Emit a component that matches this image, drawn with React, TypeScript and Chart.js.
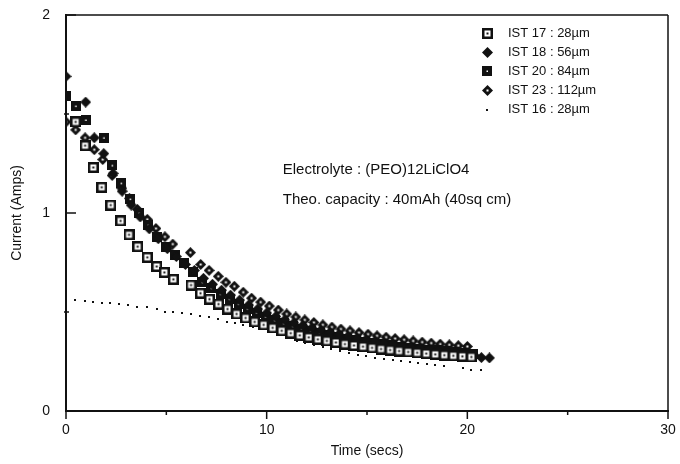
import React, { useEffect, useRef } from 'react';
import { Chart, registerables } from 'chart.js';

Chart.register(...registerables);

// ---- data (time in secs, current in amps) ----
const ist17T = [0.48, 0.95, 1.36, 1.78, 2.23, 2.72, 3.14, 3.57, 4.05, 4.52, 4.9, 5.35, 6.23, 6.7, 7.15, 7.6, 8.05, 8.5, 8.95, 9.4, 9.85, 10.3, 10.75, 11.2, 11.65, 12.1, 12.55, 13.0, 13.45, 13.9, 14.35, 14.8, 15.25, 15.7, 16.15, 16.6, 17.05, 17.5, 17.95, 18.4, 18.85, 19.3, 19.75, 20.2];
const ist17V = [1.46, 1.34, 1.23, 1.13, 1.04, 0.96, 0.89, 0.83, 0.776, 0.73, 0.7, 0.665, 0.636, 0.595, 0.565, 0.54, 0.515, 0.49, 0.47, 0.45, 0.435, 0.42, 0.405, 0.393, 0.382, 0.372, 0.362, 0.354, 0.346, 0.338, 0.331, 0.325, 0.319, 0.313, 0.308, 0.303, 0.298, 0.294, 0.29, 0.286, 0.282, 0.279, 0.276, 0.273];

const ist18T = [0, 0.98, 1.41, 1.88, 2.35, 2.8, 3.25, 3.7, 4.15, 4.6, 5.05, 5.5, 5.95, 6.4, 6.85, 7.3, 7.75, 8.2, 8.65, 9.1, 9.55, 10.0, 10.45, 10.9, 11.35, 11.8, 12.25, 12.7, 13.15, 13.6, 14.05, 14.5, 14.95, 15.4, 15.85, 16.3, 16.75, 17.2, 17.65, 18.1, 18.55, 19.0, 19.45, 19.9, 20.35, 20.7, 21.1];
const ist18V = [1.69, 1.56, 1.38, 1.3, 1.2, 1.11, 1.04, 0.98, 0.92, 0.87, 0.82, 0.78, 0.74, 0.71, 0.67, 0.64, 0.61, 0.585, 0.56, 0.535, 0.515, 0.495, 0.477, 0.46, 0.445, 0.432, 0.42, 0.408, 0.397, 0.387, 0.377, 0.368, 0.36, 0.352, 0.344, 0.337, 0.33, 0.323, 0.317, 0.311, 0.305, 0.3, 0.294, 0.289, 0.28, 0.27, 0.268];

const ist20T = [0, 0.48, 0.98, 1.88, 2.3, 2.75, 3.2, 3.65, 4.1, 4.55, 5.0, 5.45, 5.9, 6.35, 6.8, 7.25, 7.7, 8.15, 8.6, 9.05, 9.5, 9.95, 10.4, 10.85, 11.3, 11.75, 12.2, 12.65, 13.1, 13.55, 14.0, 14.45, 14.9, 15.35, 15.8, 16.25, 16.7, 17.15, 17.6, 18.05, 18.5, 18.95, 19.4, 19.85, 20.3];
const ist20V = [1.59, 1.54, 1.47, 1.38, 1.24, 1.15, 1.07, 1.0, 0.94, 0.88, 0.83, 0.79, 0.75, 0.7, 0.65, 0.62, 0.59, 0.565, 0.54, 0.515, 0.495, 0.475, 0.458, 0.442, 0.428, 0.415, 0.403, 0.392, 0.382, 0.373, 0.365, 0.357, 0.35, 0.343, 0.337, 0.331, 0.325, 0.32, 0.315, 0.31, 0.306, 0.302, 0.298, 0.295, 0.29];

const ist23T = [0, 0.48, 0.95, 1.41, 1.83, 2.3, 2.78, 3.16, 3.56, 4.05, 4.48, 4.93, 5.32, 6.2, 6.71, 7.13, 7.59, 7.97, 8.39, 8.83, 9.25, 9.7, 10.13, 10.58, 11.0, 11.45, 11.9, 12.35, 12.8, 13.25, 13.7, 14.15, 14.6, 15.05, 15.5, 15.95, 16.4, 16.85, 17.3, 17.75, 18.2, 18.65, 19.1, 19.55, 20.0];
const ist23V = [1.46, 1.42, 1.38, 1.32, 1.27, 1.19, 1.125, 1.074, 1.018, 0.968, 0.922, 0.88, 0.843, 0.8, 0.74, 0.71, 0.68, 0.65, 0.63, 0.6, 0.57, 0.55, 0.53, 0.51, 0.49, 0.475, 0.46, 0.447, 0.435, 0.424, 0.414, 0.405, 0.396, 0.388, 0.38, 0.373, 0.366, 0.36, 0.354, 0.348, 0.343, 0.338, 0.334, 0.33, 0.326];

const ist16T = [0.45, 0.95, 1.36, 1.78, 2.19, 2.65, 3.11, 3.55, 4.02, 4.52, 4.93, 5.35, 5.76, 6.21, 6.68, 7.14, 7.59, 8.01, 8.42, 8.84, 9.3, 9.75, 10.16, 10.6, 11.05, 11.5, 11.9, 12.35, 12.8, 13.2, 13.65, 14.1, 14.55, 14.95, 15.4, 15.85, 16.3, 16.7, 17.15, 17.55, 18.0, 18.4, 18.85, 19.8, 20.2, 20.7];
const ist16V = [0.56, 0.557, 0.552, 0.547, 0.544, 0.54, 0.535, 0.527, 0.524, 0.514, 0.502, 0.499, 0.497, 0.49, 0.48, 0.473, 0.463, 0.451, 0.446, 0.434, 0.425, 0.413, 0.4, 0.385, 0.37, 0.355, 0.345, 0.335, 0.325, 0.315, 0.305, 0.293, 0.283, 0.278, 0.27, 0.265, 0.258, 0.252, 0.245, 0.242, 0.236, 0.23, 0.228, 0.215, 0.205, 0.205];

const seriesLabels = ['IST 17 : 28µm', 'IST 18 : 56µm', 'IST 20 : 84µm', 'IST 23 : 112µm', 'IST 16 : 28µm'];
const annotationLines = ['Electrolyte : (PEO)12LiClO4', 'Theo. capacity : 40mAh (40sq cm)'];
const xMajorTicks = [0, 10, 20, 30];
const xMinorTicks = [5, 15, 25];
const yMajorTicks = [0, 1, 2];
const yMinorTicks = [0.5, 1.5];

const INK = '#111';
const FONT = '"Liberation Sans", Arial, sans-serif';

function makeMarker(size: number, draw: (g: CanvasRenderingContext2D, s: number) => void) {
  const c = document.createElement('canvas');
  c.width = size;
  c.height = size;
  const g = c.getContext('2d')!;
  draw(g, size);
  return c;
}

function diamondPath(g: CanvasRenderingContext2D, cx: number, cy: number, r: number) {
  g.beginPath();
  g.moveTo(cx, cy - r);
  g.lineTo(cx + r, cy);
  g.lineTo(cx, cy + r);
  g.lineTo(cx - r, cy);
  g.closePath();
}

function buildMarkers() {
  const sqOpen = makeMarker(11, (g) => {
    g.fillStyle = INK; g.fillRect(0, 0, 11, 11);
    g.fillStyle = '#fff'; g.fillRect(2.5, 2.5, 6, 6);
    g.fillStyle = INK; g.fillRect(4.5, 4.5, 2, 2);
  });
  const sqFilled = makeMarker(10, (g) => {
    g.fillStyle = INK; g.fillRect(0, 0, 10, 10);
    g.fillStyle = '#fff'; g.fillRect(4.5, 4.5, 1.5, 1.5);
  });
  const diaFilled = makeMarker(11, (g) => {
    g.fillStyle = INK; diamondPath(g, 5.5, 5.5, 5.5); g.fill();
  });
  const diaOpen = makeMarker(11, (g) => {
    g.fillStyle = INK; diamondPath(g, 5.5, 5.5, 5.5); g.fill();
    g.fillStyle = '#fff'; g.fillRect(4.5, 4.5, 2, 2);
  });
  const dot = makeMarker(2, (g) => {
    g.fillStyle = INK; g.fillRect(0, 0, 2, 2);
  });
  return [sqOpen, diaFilled, sqFilled, diaOpen, dot];
}

function pts(ts: number[], vs: number[]) {
  return ts.map((t, i) => ({ x: t, y: vs[i] }));
}

const noScalePadding = (s: any) => {
  s.paddingLeft = 0;
  s.paddingRight = 0;
  s.paddingTop = 0;
  s.paddingBottom = 0;
};

export default function App() {
  const ref = useRef<HTMLCanvasElement | null>(null);

  useEffect(() => {
    if (!ref.current) return;
    const markers = buildMarkers();
    const seriesData = [
      pts(ist17T, ist17V),
      pts(ist18T, ist18V),
      pts(ist20T, ist20V),
      pts(ist23T, ist23V),
      pts(ist16T, ist16V),
    ];

    const framePlugin = {
      id: 'frameTicks',
      afterDraw(chart: any) {
        const { ctx, chartArea, scales } = chart;
        const { left, right, top, bottom } = chartArea;
        const xs = scales.x, ys = scales.y;
        const line = (x1: number, y1: number, x2: number, y2: number) => {
          ctx.beginPath(); ctx.moveTo(x1, y1); ctx.lineTo(x2, y2); ctx.stroke();
        };
        ctx.save();
        ctx.strokeStyle = INK;
        ctx.lineWidth = 2;
        line(left, top - 1, left, bottom + 1);
        line(left - 1, bottom, right + 1, bottom);
        ctx.lineWidth = 1.5;
        line(left, top, right, top);
        line(right, top, right, bottom);
        xMajorTicks.forEach((v) => { const p = xs.getPixelForValue(v); line(p, bottom, p, bottom + 8); });
        xMinorTicks.forEach((v) => { const p = xs.getPixelForValue(v); line(p, bottom, p, bottom + 4); });
        yMajorTicks.forEach((v) => { const p = ys.getPixelForValue(v); line(left, p, left + 10, p); });
        yMinorTicks.forEach((v) => { const p = ys.getPixelForValue(v); line(left - 2, p, left + 3, p); });

        // legend (inside plot, top right)
        ctx.font = `13px ${FONT}`;
        ctx.fillStyle = INK;
        ctx.textBaseline = 'middle';
        ctx.textAlign = 'left';
        seriesLabels.forEach((lab, i) => {
          const cy = top + 18 + i * 19.2;
          const m = markers[i];
          const mx = right - 181;
          ctx.drawImage(m, Math.round(mx - m.width / 2), Math.round(cy - m.height / 2));
          ctx.fillText(lab, right - 160, cy);
        });

        // annotation
        ctx.font = `15px ${FONT}`;
        const ax = xs.getPixelForValue(10.8);
        ctx.fillText(annotationLines[0], ax, ys.getPixelForValue(1.217));
        ctx.fillText(annotationLines[1], ax, ys.getPixelForValue(1.066));
        ctx.restore();
      },
    };

    const chart = new Chart(ref.current, {
      type: 'scatter',
      data: {
        datasets: seriesData.map((d, i) => ({
          label: seriesLabels[i],
          data: d,
          pointStyle: markers[i] as any,
          pointRadius: 4,
          showLine: false,
          borderColor: INK,
          backgroundColor: INK,
        })),
      },
      options: {
        animation: false,
        responsive: false,
        maintainAspectRatio: false,
        color: INK,
        font: { family: FONT },
        layout: { padding: { top: 15, right: 12, left: 0, bottom: 0 } },
        plugins: { legend: { display: false }, tooltip: { enabled: false } },
        scales: {
          x: {
            type: 'linear',
            min: 0,
            max: 30,
            afterFit: (s: any) => { s.height = 53; noScalePadding(s); },
            grid: { display: false, drawTicks: false },
            border: { display: false },
            ticks: {
              stepSize: 10,
              padding: 11,
              color: INK,
              font: { size: 14, family: FONT },
              maxRotation: 0,
            },
            title: {
              display: true,
              text: 'Time (secs)',
              color: INK,
              font: { size: 14, family: FONT },
              padding: { top: 0, bottom: 4 },
            },
          },
          y: {
            type: 'linear',
            min: 0,
            max: 2,
            afterFit: (s: any) => { s.width = 66; noScalePadding(s); },
            grid: { display: false, drawTicks: false },
            border: { display: false },
            ticks: {
              stepSize: 1,
              padding: 16,
              color: INK,
              font: { size: 14, family: FONT },
            },
            title: {
              display: true,
              text: 'Current (Amps)',
              color: INK,
              font: { size: 14, family: FONT },
              padding: { top: 9, bottom: 0 },
            },
          },
        },
      },
      plugins: [framePlugin],
    });
    return () => chart.destroy();
  }, []);

  return (
    <div style={{ position: 'fixed', left: 0, top: 0, width: 680, height: 464, background: '#fff' }}>
      <canvas ref={ref} width={680} height={464} style={{ width: 680, height: 464, display: 'block' }} />
    </div>
  );
}
